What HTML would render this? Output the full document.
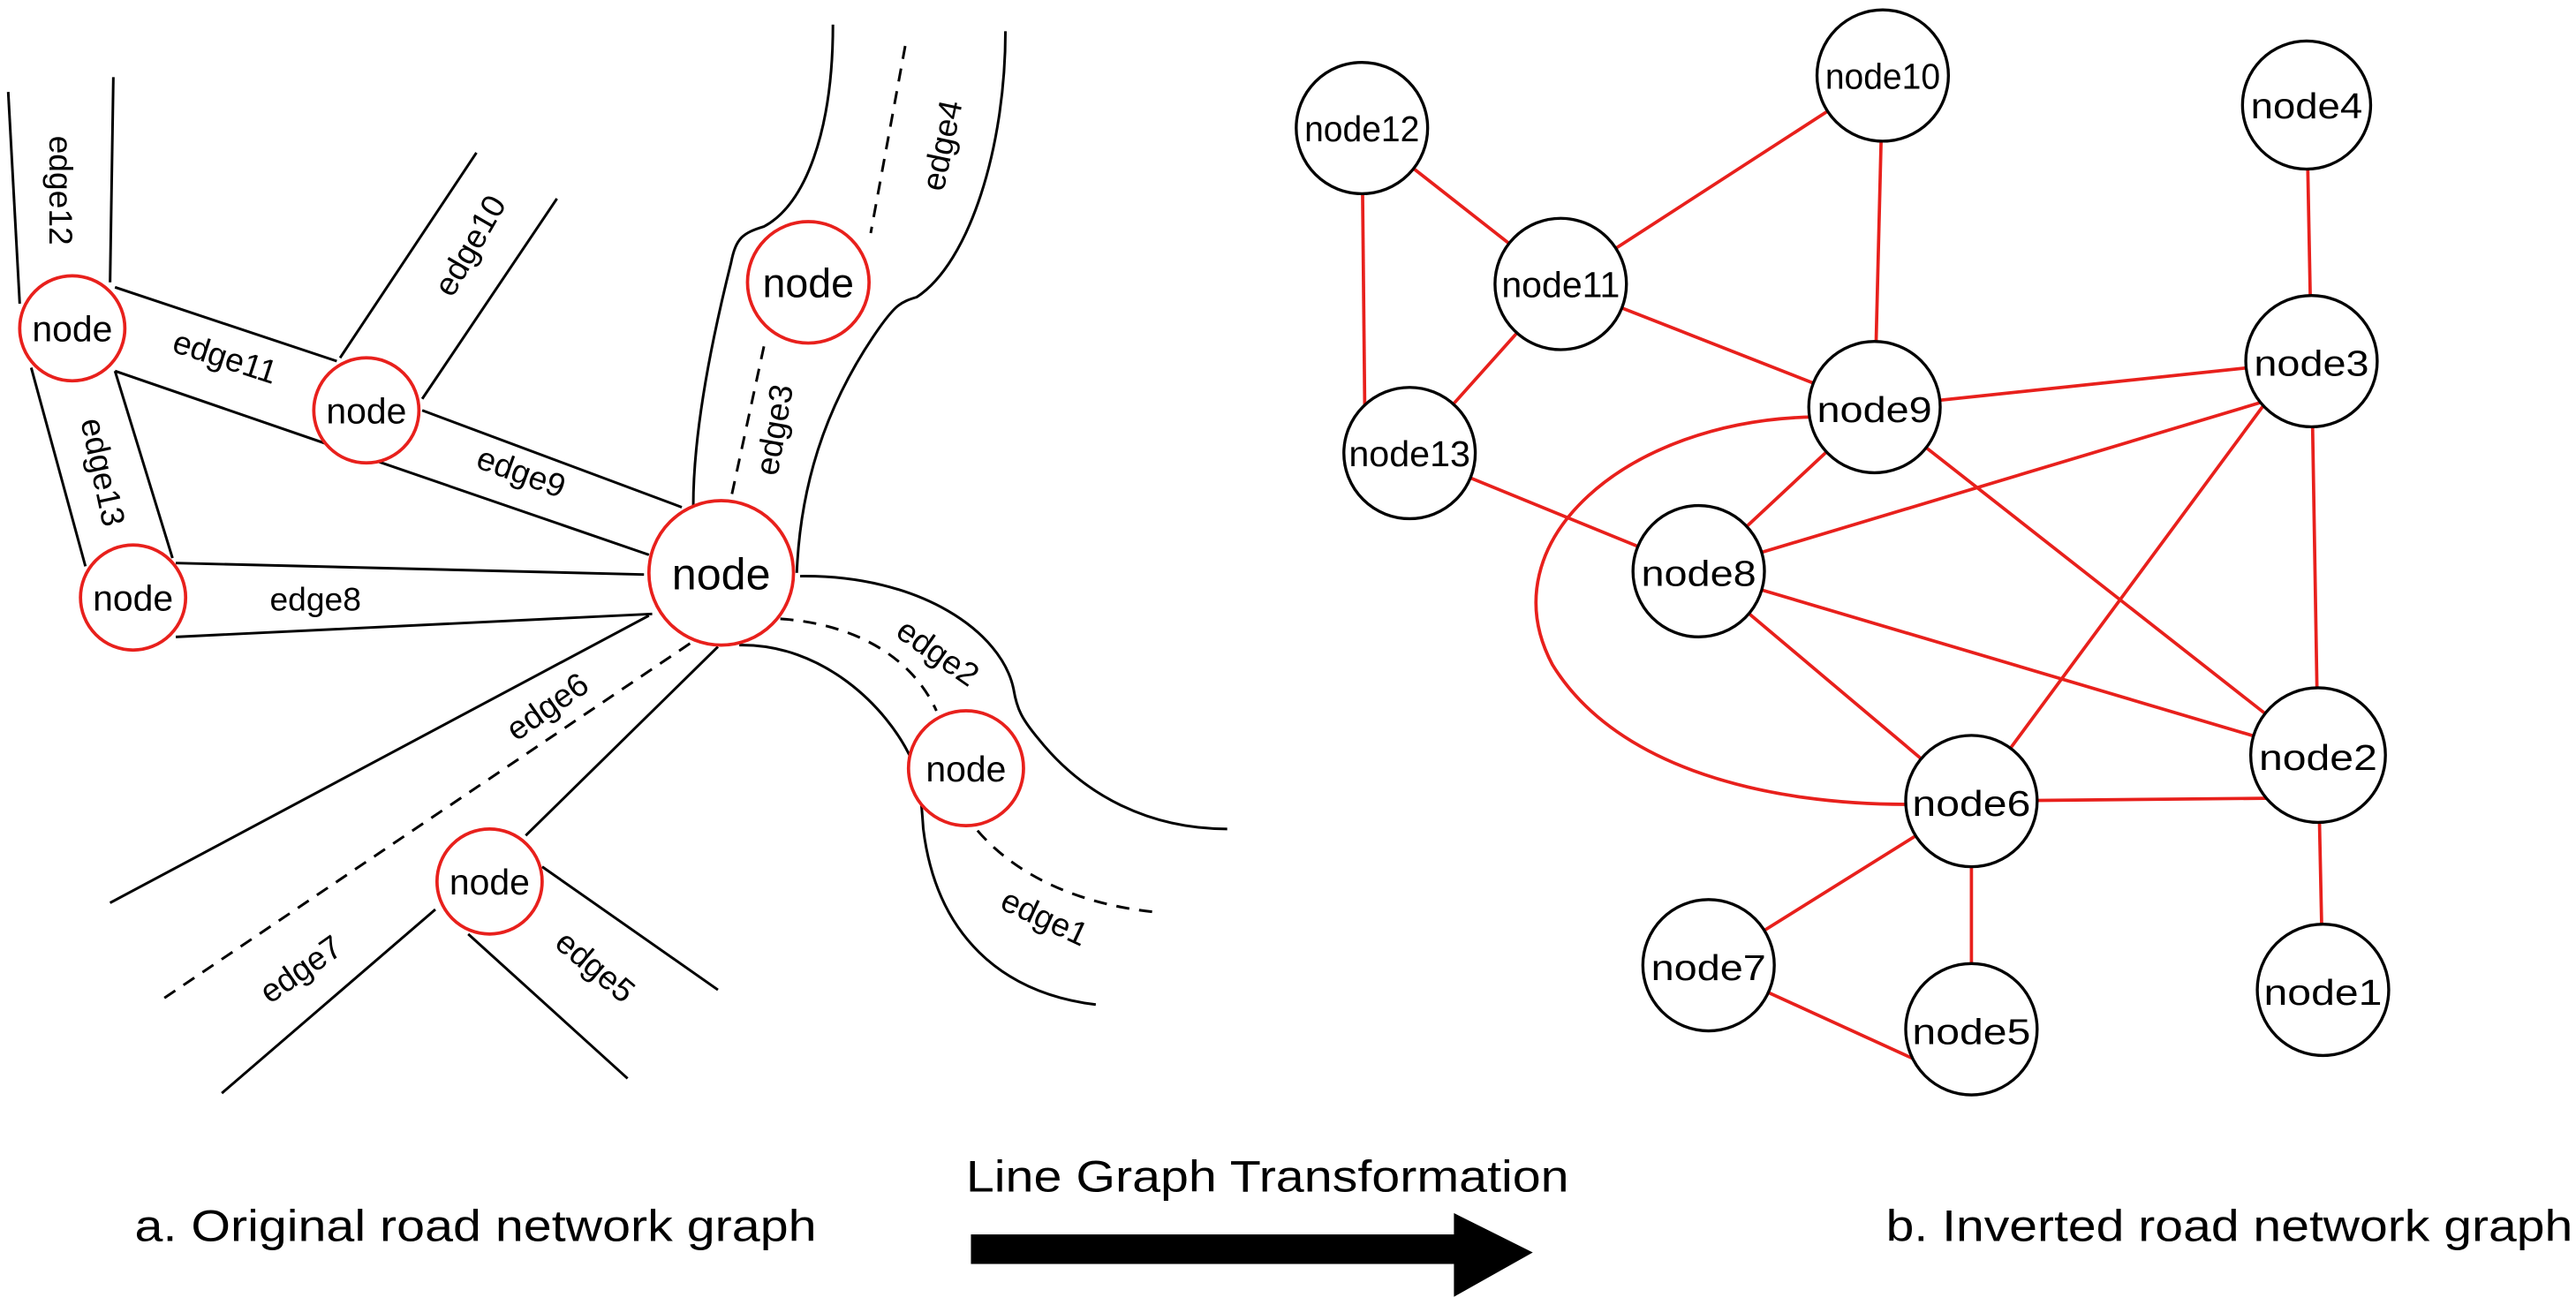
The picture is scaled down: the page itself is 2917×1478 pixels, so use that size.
<!DOCTYPE html>
<html><head><meta charset="utf-8"><style>
html,body{margin:0;padding:0;background:#fff;}
svg{display:block;}
text{font-family:"Liberation Sans",Arial,sans-serif;fill:#000;}
</style></head><body>
<svg width="2917" height="1478" viewBox="0 0 1568 795" preserveAspectRatio="none" xmlns="http://www.w3.org/2000/svg">
<rect width="1568" height="795" fill="#fff"/>
<g stroke="#000" stroke-width="1.6" fill="none">
<line x1="5" y1="56" x2="12" y2="185"/>
<line x1="69" y1="47" x2="67" y2="172"/>
<line x1="70" y1="175" x2="205" y2="220"/>
<line x1="70" y1="226" x2="395" y2="338"/>
<line x1="257" y1="250" x2="415" y2="309"/>
<line x1="290" y1="93" x2="207" y2="218"/>
<line x1="339" y1="121" x2="257" y2="243"/>
<line x1="19" y1="224" x2="52" y2="345"/>
<line x1="70" y1="226" x2="105" y2="340"/>
<line x1="107" y1="343" x2="392" y2="350"/>
<line x1="107" y1="388" x2="397" y2="374"/>
<path d="M507,15 C507,80 490,125 465,138 C452,142 448,145 445,160 C430,220 422,270 422,308"/>
<path d="M612,19 C612,90 590,160 558,181 C548,184 545,186 535,200 C500,250 487,300 485,349"/>
<path d="M487,351 C560,350 610,385 617,420 C619,432 622,438 632,450 C660,485 700,505 747,505"/>
<path d="M450,393 C500,392 540,430 555,463 C560,475 561,490 562,505 C570,570 610,605 667,612"/>
<line x1="395" y1="375" x2="67" y2="550"/>
<line x1="437" y1="394" x2="320" y2="509"/>
<line x1="330" y1="528" x2="437" y2="603"/>
<line x1="285" y1="569" x2="382" y2="657"/>
<line x1="265" y1="554" x2="135" y2="666"/>
</g>
<g stroke="#000" stroke-width="1.6" fill="none" stroke-dasharray="8,6">
<line x1="551" y1="28" x2="530" y2="142"/>
<line x1="465" y1="211" x2="444" y2="308"/>
<path d="M475,377 C520,380 555,400 570,433"/>
<path d="M595,506 C620,535 660,552 707,556"/>
<line x1="420" y1="392" x2="100" y2="608"/>
</g>
<g fill="#fff" stroke="#e8201c" stroke-width="2">
<circle cx="44" cy="200" r="32"/>
<circle cx="223" cy="250" r="32"/>
<circle cx="81" cy="364" r="32"/>
<circle cx="439" cy="349" r="44"/>
<circle cx="492" cy="172" r="37"/>
<circle cx="588" cy="468" r="35"/>
<circle cx="298" cy="537" r="32"/>
</g>
<g font-size="22" text-anchor="middle">
<text x="44" y="208">node</text>
<text x="223" y="258">node</text>
<text x="81" y="372">node</text>
<text x="588" y="476">node</text>
<text x="298" y="545">node</text>
<text x="439" y="359" font-size="27">node</text>
<text x="492" y="181" font-size="25">node</text>
</g>
<g font-size="20" text-anchor="middle">
<text transform="translate(30,116) rotate(90)">edge12</text>
<text transform="translate(135,224) rotate(18)">edge11</text>
<text transform="translate(292,153) rotate(-60)">edge10</text>
<text transform="translate(315,294) rotate(20)">edge9</text>
<text transform="translate(56,289) rotate(78)">edge13</text>
<text transform="translate(192,372)">edge8</text>
<text transform="translate(580,90) rotate(-78)">edge4</text>
<text transform="translate(478,263) rotate(-80)">edge3</text>
<text transform="translate(567,403) rotate(35)">edge2</text>
<text transform="translate(633,565) rotate(25)">edge1</text>
<text transform="translate(337,436) rotate(-35)">edge6</text>
<text transform="translate(187,596) rotate(-35)">edge7</text>
<text transform="translate(358,594) rotate(40)">edge5</text>
</g>
<g stroke="#e8201c" stroke-width="2" fill="none">
<line x1="829" y1="78" x2="950" y2="173"/>
<line x1="829" y1="78" x2="831" y2="276"/>
<line x1="950" y1="173" x2="1146" y2="46"/>
<line x1="950" y1="173" x2="1141" y2="248"/>
<line x1="950" y1="173" x2="858" y2="276"/>
<line x1="1146" y1="46" x2="1141" y2="248"/>
<line x1="1404" y1="64" x2="1407" y2="220"/>
<line x1="1141" y1="248" x2="1407" y2="220"/>
<line x1="1141" y1="248" x2="1034" y2="348"/>
<line x1="1141" y1="248" x2="1411" y2="460"/>
<path d="M1104,254 C990,256 905,330 945,405 C985,470 1080,490 1160,490"/>
<line x1="858" y1="276" x2="1034" y2="348"/>
<line x1="1034" y1="348" x2="1380" y2="244"/>
<line x1="1034" y1="348" x2="1411" y2="460"/>
<line x1="1034" y1="348" x2="1200" y2="488"/>
<line x1="1380" y1="244" x2="1200" y2="488"/>
<line x1="1407" y1="220" x2="1411" y2="460"/>
<line x1="1200" y1="488" x2="1411" y2="486"/>
<line x1="1411" y1="460" x2="1414" y2="603"/>
<line x1="1200" y1="488" x2="1040" y2="588"/>
<line x1="1200" y1="488" x2="1200" y2="627"/>
<line x1="1040" y1="588" x2="1180" y2="652"/>
</g>
<g fill="#fff" stroke="#000" stroke-width="1.8">
<circle cx="829" cy="78" r="40"/>
<circle cx="1146" cy="46" r="40"/>
<circle cx="1404" cy="64" r="39"/>
<circle cx="950" cy="173" r="40"/>
<circle cx="1407" cy="220" r="40"/>
<circle cx="1141" cy="248" r="40"/>
<circle cx="858" cy="276" r="40"/>
<circle cx="1034" cy="348" r="40"/>
<circle cx="1411" cy="460" r="41"/>
<circle cx="1200" cy="488" r="40"/>
<circle cx="1040" cy="588" r="40"/>
<circle cx="1200" cy="627" r="40"/>
<circle cx="1414" cy="603" r="40"/>
</g>
<g font-size="22" text-anchor="middle">
<text x="829" y="86" textLength="70" lengthAdjust="spacingAndGlyphs">node12</text>
<text x="1146" y="54" textLength="70" lengthAdjust="spacingAndGlyphs">node10</text>
<text x="1404" y="72" textLength="68" lengthAdjust="spacingAndGlyphs">node4</text>
<text x="950" y="181" textLength="72" lengthAdjust="spacingAndGlyphs">node11</text>
<text x="1407" y="229" textLength="70" lengthAdjust="spacingAndGlyphs">node3</text>
<text x="1141" y="257" textLength="70" lengthAdjust="spacingAndGlyphs">node9</text>
<text x="858" y="284" textLength="74" lengthAdjust="spacingAndGlyphs">node13</text>
<text x="1034" y="357" textLength="70" lengthAdjust="spacingAndGlyphs">node8</text>
<text x="1411" y="469" textLength="72" lengthAdjust="spacingAndGlyphs">node2</text>
<text x="1200" y="497" textLength="72" lengthAdjust="spacingAndGlyphs">node6</text>
<text x="1040" y="597" textLength="70" lengthAdjust="spacingAndGlyphs">node7</text>
<text x="1200" y="636" textLength="72" lengthAdjust="spacingAndGlyphs">node5</text>
<text x="1414" y="612" textLength="72" lengthAdjust="spacingAndGlyphs">node1</text>
</g>
<g font-size="27">
<text x="82" y="756" textLength="415" lengthAdjust="spacingAndGlyphs">a. Original road network graph</text>
<text x="588" y="726" textLength="367" lengthAdjust="spacingAndGlyphs">Line Graph Transformation</text>
<text x="1148" y="756" textLength="418" lengthAdjust="spacingAndGlyphs">b. Inverted road network graph</text>
</g>
<rect x="591" y="752" width="296" height="18" fill="#000"/>
<polygon points="885,739 933,763 885,790" fill="#000"/>
</svg>
</body></html>
